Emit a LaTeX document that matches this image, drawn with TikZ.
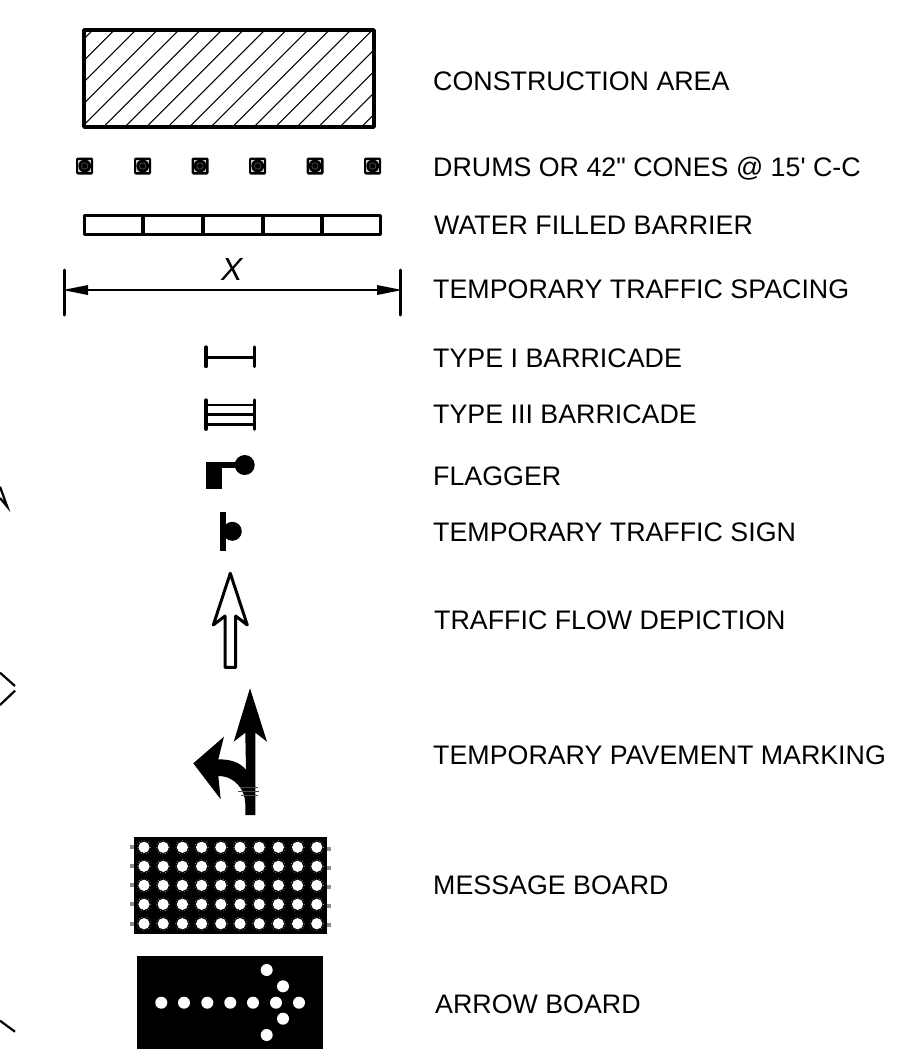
\documentclass[tikz,border=0pt]{standalone}
\usepackage{fontspec}
\setmainfont{Liberation Sans}[Ligatures=TeXOff]
\definecolor{ringgray}{gray}{0.55}
\tikzset{
  lbl/.style={anchor=base west,inner sep=0pt,font=\fontsize{26.8}{29}\selectfont},
  solidk/.style={fill=black,draw=none},
  bulb/.style={fill=white,draw=none},
  frag/.style={draw=black,line width=2.2pt},
  thick3/.style={draw=black,line width=3.5pt,line join=round,line cap=round}
}
\begin{document}
\begin{tikzpicture}[x=1pt,y=-1pt]
\useasboundingbox (0,0) rectangle (914,1057);
% construction area
\begin{scope}
\clip (84,30) rectangle (374,127);
\foreach \i in {-5,...,13}{
  \draw[line width=1.1pt] ({103.3+21.5*\i},127) -- ({200.3+21.5*\i},30);
}
\end{scope}
\draw[thick3] (84,30) rectangle (374,127);
% drums
\foreach \x in {84.7,142.7,200,257.7,315,372.7}{
  \fill[black,rounded corners=1.5pt] (\x-8.5,157.5) rectangle (\x+8.5,174.5);
  \fill[white!80!black] (\x-6.3,159.7) rectangle (\x+6.3,172.3);
  \fill[black] (\x,166) circle (6.4);
  \draw[ringgray!70!black,line width=.5pt] (\x,166) circle (3.2);
}
% water filled barrier
\draw[thick3,line width=3pt] (84.7,215) rectangle (380.7,234);
\foreach \x in {143.3,202.7,262.7,322}{\draw[line width=4pt] (\x,215) -- (\x,234);}
% dimension
\draw[line width=3pt,line cap=round] (64.7,270) -- (64.7,315);
\draw[line width=3pt,line cap=round] (400.3,270) -- (400.3,315);
\draw[line width=2.6pt] (80,290) -- (385,290);
\fill (63,290) -- (88,285) -- (88,295) -- cycle;
\fill (402,290) -- (377,285) -- (377,295) -- cycle;
\node[inner sep=0pt,font=\fontsize{32}{34}\selectfont\itshape] (xlabel) at (231.7,269) {X};
% type I
\draw[line width=3.2pt,line cap=round] (206,347) -- (206,366.5) (254.3,347) -- (254.3,366.5);
\draw[line width=2.6pt] (206,357.3) -- (254.3,357.3);
% type III
\draw[line width=3.2pt,line cap=round] (206,400) -- (206,429.3) (254.3,400) -- (254.3,429.3);
\draw[line width=2.6pt] (206,405) -- (254.3,405) (206,414.3) -- (254.3,414.3) (206,424.3) -- (254.3,424.3);
% flagger
\fill (205.7,462.3) rectangle (221.7,489.3);
\fill (221,462.3) rectangle (240,468.3);
\fill (244.7,465) circle (10);
% sign
\fill (219.7,512.3) rectangle (225.7,551);
\fill (232.3,531.3) circle (9.5);
% flow arrow
\draw[line width=3pt,line join=round,fill=white]
  (225,667.3) -- (225,616) -- (213.3,625) -- (230.3,573.3) -- (247.3,625) -- (235.7,616) -- (235.7,667.3) -- cycle;
% pavement marking
\fill (250,688.3) -- (267,741.7) -- (255.3,732.7) -- (255.3,815) -- (245.3,815) -- (245.3,804)
  .. controls (245.3,790) and (235,776) .. (218.3,776)
  -- (220.7,799.3) -- (193.3,763.3) -- (224,736.7) -- (218.3,759.3)
  .. controls (230,759.3) and (240,762) .. (246,770)
  -- (245.3,732.7) -- (233.7,741.7) -- cycle;
\foreach \y/\a/\b in {787/240/258,791/238/259,795/241/258}{
  \draw[line width=.4pt,black!70] (\a,\y) -- (\b,\y);
}
% message board
\fill (133.7,837.3) rectangle (326.7,934.3);
\foreach \y/\yr in {847.3/848.7,866.3/867.7,885.3/886.7,904.3/906,923.7/925}{
  \fill[ringgray] (130,\y-2) rectangle (133.7,\y+2);
  \fill[ringgray] (326.7,\yr-2) rectangle (330.5,\yr+2);
  \foreach \k in {0,...,9}{
    \draw[white!65!black,line width=.6pt,dotted] ({144+19.2*\k},\y) circle (6.7);
    \fill[bulb] ({144+19.2*\k},\y) circle (5.6);
  }
}
% arrow board
\fill (137.3,956) rectangle (322.7,1049);
\foreach \p in {(161.3,1002.7),(184,1002.7),(207.3,1002.7),(230.3,1002.7),(253,1002.7),(276,1002.7),(299,1002.7),(266.7,970),(283,986.3),(283,1018.7),(266.7,1035)}{
  \fill[bulb] \p circle (6);
}
% clipped fragments at the left edge
\draw[frag] (0,486.7) -- (7.3,506.7) -- (0,498);
\draw[frag] (0,672.7) -- (15,686);
\draw[frag] (15,690.7) -- (0,705);
\draw[frag] (0,1020.7) -- (15,1031.7);
% labels
\node[lbl] (l1) at (433,90.6) {CONSTRUCTION AREA};
\node[lbl] (l2) at (433,176.6) {DRUMS OR 42" CONES @ 15' C-C};
\node[lbl] (l3) at (434,234.6) {WATER FILLED BARRIER};
\node[lbl] (l4) at (433,298.6) {TEMPORARY TRAFFIC SPACING};
\node[lbl] (l5) at (433,367.6) {TYPE I BARRICADE};
\node[lbl] (l6) at (433,423.6) {TYPE III BARRICADE};
\node[lbl] (l7) at (433,485.6) {FLAGGER};
\node[lbl] (l8) at (433,541.6) {TEMPORARY TRAFFIC SIGN};
\node[lbl] (l9) at (434,629.6) {TRAFFIC FLOW DEPICTION};
\node[lbl] (l10) at (433,764.6) {TEMPORARY PAVEMENT MARKING};
\node[lbl] (l11) at (433,894.6) {MESSAGE BOARD};
\node[lbl] (l12) at (435,1013.6) {ARROW BOARD};
\end{tikzpicture}
\end{document}
